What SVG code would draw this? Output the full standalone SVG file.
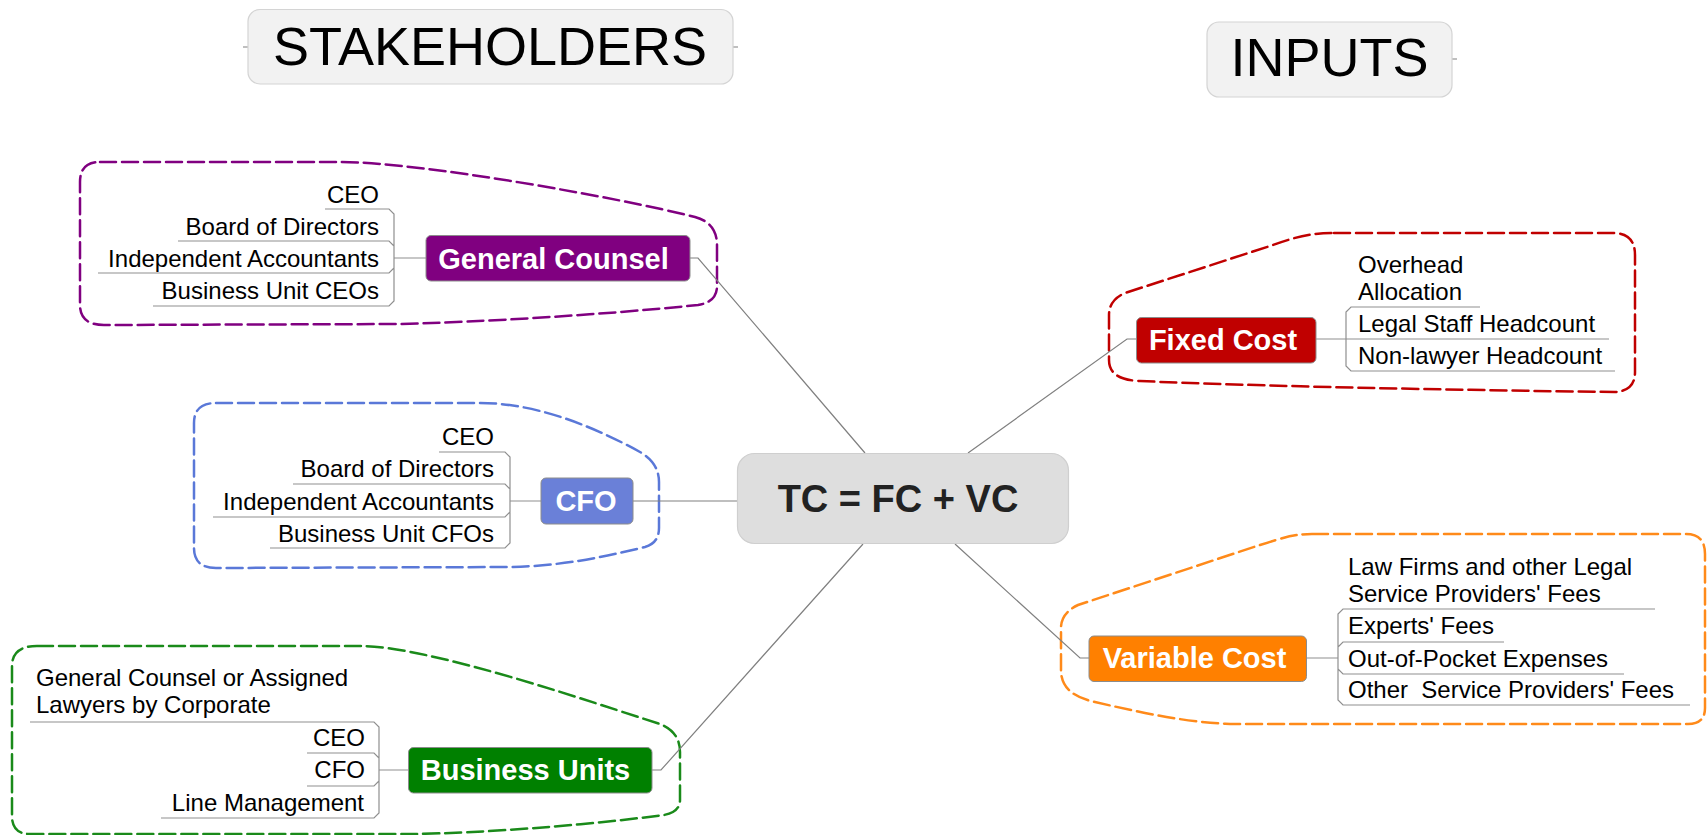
<svg xmlns="http://www.w3.org/2000/svg" width="1707" height="835" viewBox="0 0 1707 835">
<style>
.bnd{fill:none;stroke-width:2.5;stroke-dasharray:16 6;stroke-linecap:round}
.hdr{fill:#f2f2f2;stroke:#d4d4d4;stroke-width:1.2}
.hdt{font-family:"Liberation Sans",Arial,sans-serif;font-size:54px;fill:#000;text-anchor:middle}
.ttl{stroke:#8c8c8c;stroke-width:1}
.ttt{font-family:"Liberation Sans",Arial,sans-serif;font-size:29px;font-weight:bold;fill:#fff;text-anchor:middle}
.ch{font-family:"Liberation Sans",Arial,sans-serif;font-size:24px;fill:#000}
.r{text-anchor:end}
.ln{fill:none;stroke:#8f8f8f;stroke-width:1.2}
.cn{fill:none;stroke:#808080;stroke-width:1.2}
</style>
<rect width="1707" height="835" fill="#fff"/>

<!-- boundaries -->
<g id="boundaries">
<path class="bnd" stroke="#800080" d="M100,162 L340,162 C420,162 620,198 695,217 Q717,223 717,245 L717,286 Q717,302 698,305 C600,315 480,322 400,324 L104,325 Q80,325 80,305 L80,182 Q80,162 100,162 Z"/>
<path class="bnd" stroke="#5a78d8" d="M216,403 L480,403 C540,403 600,430 640,452 Q659,463 659,482 L659,528 Q659,543 645,547 C600,558 560,566 510,567 L216,568 Q194,568 194,548 L194,423 Q194,403 216,403 Z"/>
<path class="bnd" stroke="#1a8a1a" d="M37,646 L360,646 C430,646 600,705 660,724 Q680,732 680,752 L680,800 Q680,812 664,815 C580,826 480,833 413,834 L30,834 Q12,834 12,816 L12,666 Q12,646 37,646 Z"/>
<path class="bnd" stroke="#c00000" d="M1334,233 L1613,233 Q1635,233 1635,255 L1635,372 Q1635,391 1615,392 C1450,390 1250,386 1140,381 Q1109,380 1109,360 L1109,315 Q1109,300 1125,293 L1270,246 C1295,237 1310,233 1334,233 Z"/>
<path class="bnd" stroke="#ff8a1a" d="M1312,534 L1686,534 Q1705,534 1705,554 L1705,708 Q1705,724 1688,724 L1230,724 C1180,722 1130,710 1095,702 Q1061,695 1061,670 L1061,628 Q1061,613 1078,605 L1260,545 C1285,537 1295,534 1312,534 Z"/>
</g>

<!-- connectors -->
<g id="connectors">
<path class="cn" d="M690,258 H698 L865,453"/>
<path class="cn" d="M633,501 H737"/>
<path class="cn" d="M652,770 H661 L863,544"/>
<path class="cn" d="M968,453 L1127,339 H1136"/>
<path class="cn" d="M955,544 L1080,658 H1089"/>
<path class="cn" stroke="#d8d8d8" d="M243,47 H248 M733,47 H738 M1452,59 H1457"/>
<!-- GC tree -->
<path class="ln" d="M394,258 H426 M394,258 V214 L389,209 H325 M394,258 V246 L389,241 H178 M394,258 V268 L389,273 H98 M394,258 V301 L389,306 H153"/>
<!-- CFO tree -->
<path class="ln" d="M510,501 H541 M510,501 V457 L505,452 H439 M510,501 V489 L505,484 H293 M510,501 V512 L505,517 H213 M510,501 V543 L505,548 H270"/>
<!-- BU tree -->
<path class="ln" d="M379,770 H409 M379,770 V727 L374,722 H30 M379,770 V758 L374,753 H307 M379,770 V781 L374,786 H307 M379,770 V813 L374,818 H161"/>
<!-- FC tree -->
<path class="ln" d="M1316,339 H1609 M1346,339 V312 L1351,307 H1480 M1346,339 V366 L1351,371 H1615"/>
<!-- VC tree -->
<path class="ln" d="M1307,658 H1338 M1338,658 V614 L1343,609 H1655 M1338,658 V647 L1343,642 H1504 M1338,658 V669 L1343,674 H1624 M1338,658 V700 L1343,705 H1690"/>
</g>

<g id="stakeholders">
<rect class="hdr" x="248" y="9.5" width="485" height="74.5" rx="12"/>
<text class="hdt" x="490" y="65">STAKEHOLDERS</text>
</g>
<g id="inputs">
<rect class="hdr" x="1207" y="22" width="245" height="75" rx="12"/>
<text class="hdt" x="1329.5" y="76">INPUTS</text>
</g>

<g id="central">
<rect x="737.5" y="453.5" width="331" height="90" rx="17" fill="#dedede" stroke="#cfcfcf" stroke-width="1.2"/>
<text x="898" y="512" font-family="Liberation Sans, Arial, sans-serif" font-size="38" font-weight="bold" fill="#222" text-anchor="middle">TC = FC + VC</text>
</g>

<g id="general-counsel">
<rect class="ttl" x="426" y="235.5" width="264" height="45.5" rx="5" fill="#800080"/>
<text class="ttt" x="553.5" y="269">General Counsel</text>
</g>
<g id="gc-children">
<text class="ch r" x="379" y="203">CEO</text>
<text class="ch r" x="379" y="235">Board of Directors</text>
<text class="ch r" x="379" y="267">Independent Accountants</text>
<text class="ch r" x="379" y="299">Business Unit CEOs</text>
</g>

<g id="cfo">
<rect class="ttl" x="541" y="478" width="92" height="46" rx="5" fill="#6a80d8"/>
<text class="ttt" x="586" y="511">CFO</text>
</g>
<g id="cfo-children">
<text class="ch r" x="494" y="445">CEO</text>
<text class="ch r" x="494" y="477">Board of Directors</text>
<text class="ch r" x="494" y="510">Independent Accountants</text>
<text class="ch r" x="494" y="542">Business Unit CFOs</text>
</g>

<g id="business-units">
<rect class="ttl" x="408.5" y="747.5" width="243.5" height="45.5" rx="5" fill="#008000"/>
<text class="ttt" x="525.5" y="780">Business Units</text>
</g>
<g id="bu-children">
<text class="ch" x="36" y="686">General Counsel or Assigned</text>
<text class="ch" x="36" y="713">Lawyers by Corporate</text>
<text class="ch r" x="365" y="746">CEO</text>
<text class="ch r" x="365" y="778">CFO</text>
<text class="ch r" x="364" y="811">Line Management</text>
</g>

<g id="fixed-cost">
<rect class="ttl" x="1136.5" y="317.5" width="179.5" height="45.5" rx="5" fill="#c00000"/>
<text class="ttt" x="1223" y="350">Fixed Cost</text>
</g>
<g id="fc-children">
<text class="ch" x="1358" y="273">Overhead</text>
<text class="ch" x="1358" y="300">Allocation</text>
<text class="ch" x="1358" y="332">Legal Staff Headcount</text>
<text class="ch" x="1358" y="364">Non-lawyer Headcount</text>
</g>

<g id="variable-cost">
<rect class="ttl" x="1089" y="636" width="217.5" height="45.5" rx="5" fill="#ff8000"/>
<text class="ttt" x="1194.5" y="668">Variable Cost</text>
</g>
<g id="vc-children">
<text class="ch" x="1348" y="575">Law Firms and other Legal</text>
<text class="ch" x="1348" y="602">Service Providers' Fees</text>
<text class="ch" x="1348" y="634">Experts' Fees</text>
<text class="ch" x="1348" y="667">Out-of-Pocket Expenses</text>
<text class="ch" x="1348" y="698" xml:space="preserve">Other  Service Providers' Fees</text>
</g>
</svg>
